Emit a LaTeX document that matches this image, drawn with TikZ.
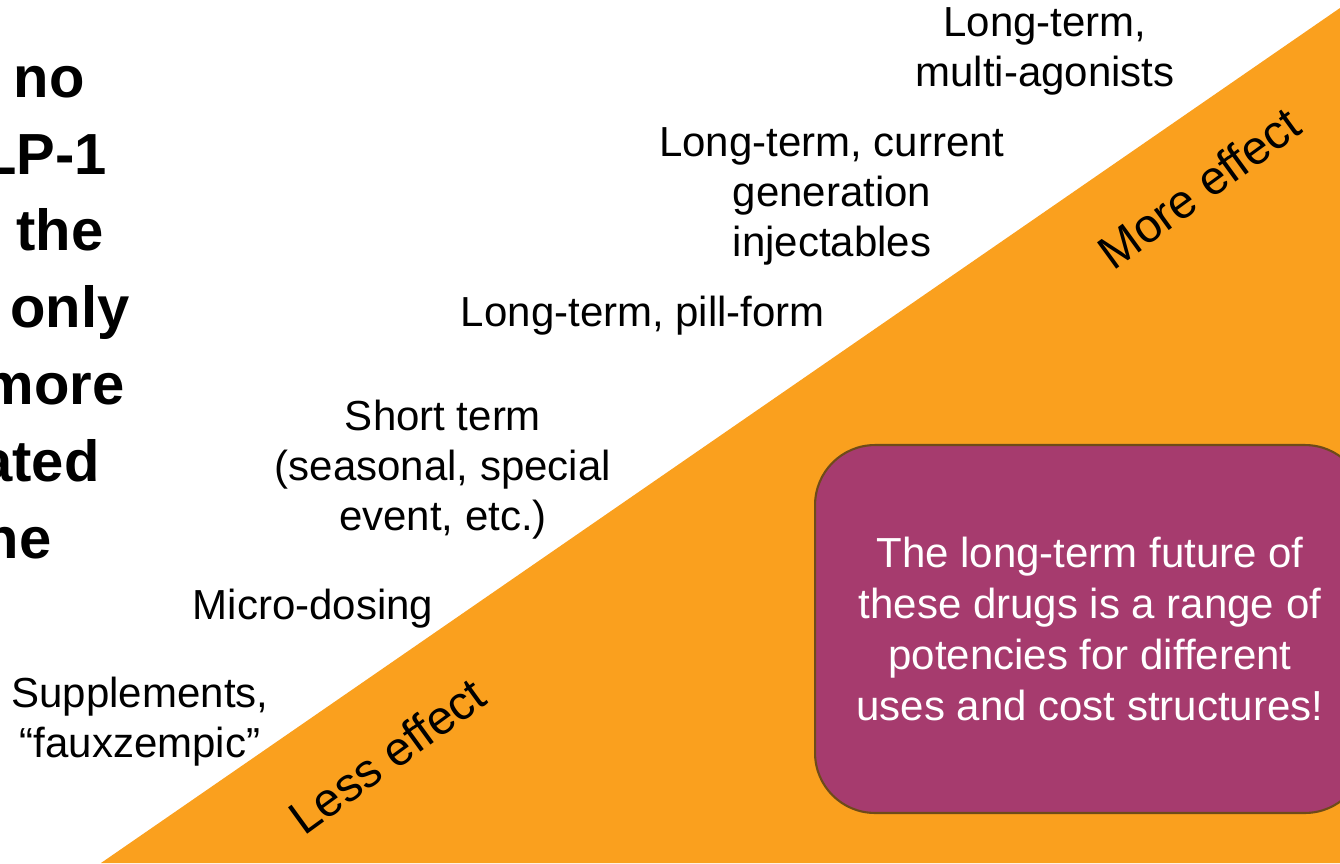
\documentclass[tikz,border=0pt]{standalone}
\usepackage{xcolor}
\usepackage{fontspec}
\setmainfont{Liberation Sans}
\usepackage{tikz}

\definecolor{wedge}{HTML}{FAA01E}
\definecolor{berry}{HTML}{A63B6E}
\definecolor{berryline}{HTML}{6E4B19}

\tikzset{
  tier/.style={align=center,inner sep=0pt,font=\fontsize{23.9}{28.5}\selectfont},
  ends/.style={rotate=36,inner sep=0pt,font=\fontsize{27}{32}\selectfont},
  cut/.style={anchor=base east,inner sep=0pt,font=\fontsize{33}{44}\selectfont\bfseries},
  future/.style={draw=berryline,line width=1.2pt,fill=berry,text=white,
    rounded corners=1.2cm,minimum width=11cm,minimum height=7.36cm,
    align=center,font=\fontsize{23.9}{29}\selectfont},
}

\begin{document}
\begin{tikzpicture}[x=0.02cm,y=-0.02cm]
    \useasboundingbox (0,0) rectangle (1340,863);
    \clip (0,0) rectangle (1340,863);

    \fill[wedge] (101,863) -- (1340,8) -- (1340,863) -- cycle;

    \node[cut] (l1) at (85,97) {no};
    \node[cut] (l2) at (107,174) {LP-1};
    \node[cut] (l3) at (104,250) {the};
    \node[cut] (l4) at (130,327) {only};
    \node[cut] (l5) at (125,404) {more};
    \node[cut] (l6) at (100,481) {ated};
    \node[cut] (l7) at (52,558) {ne};

    \node[tier] (multi) at (1045,51) {Long-term,\\multi-agonists};
    \node[tier] (current) at (832,196) {Long-term, current\\generation\\injectables};
    \node[tier] (pill) at (643,316) {Long-term, pill-form};
    \node[tier] (short) at (443,470) {Short term\\(seasonal, special\\event, etc.)};
    \node[tier] (micro) at (313,609) {Micro-dosing};
    \node[tier] (supp) at (140,722) {Supplements,\\“fauxzempic”};

    \node[ends] (less) at (387,756) {Less effect};
    \node[ends] (more) at (1199,188) {More effect};

    \node[future] (range) at (1090,629) {The long-term future of\\these drugs is a range of\\potencies for different\\uses and cost structures!};
\end{tikzpicture}
\end{document}
